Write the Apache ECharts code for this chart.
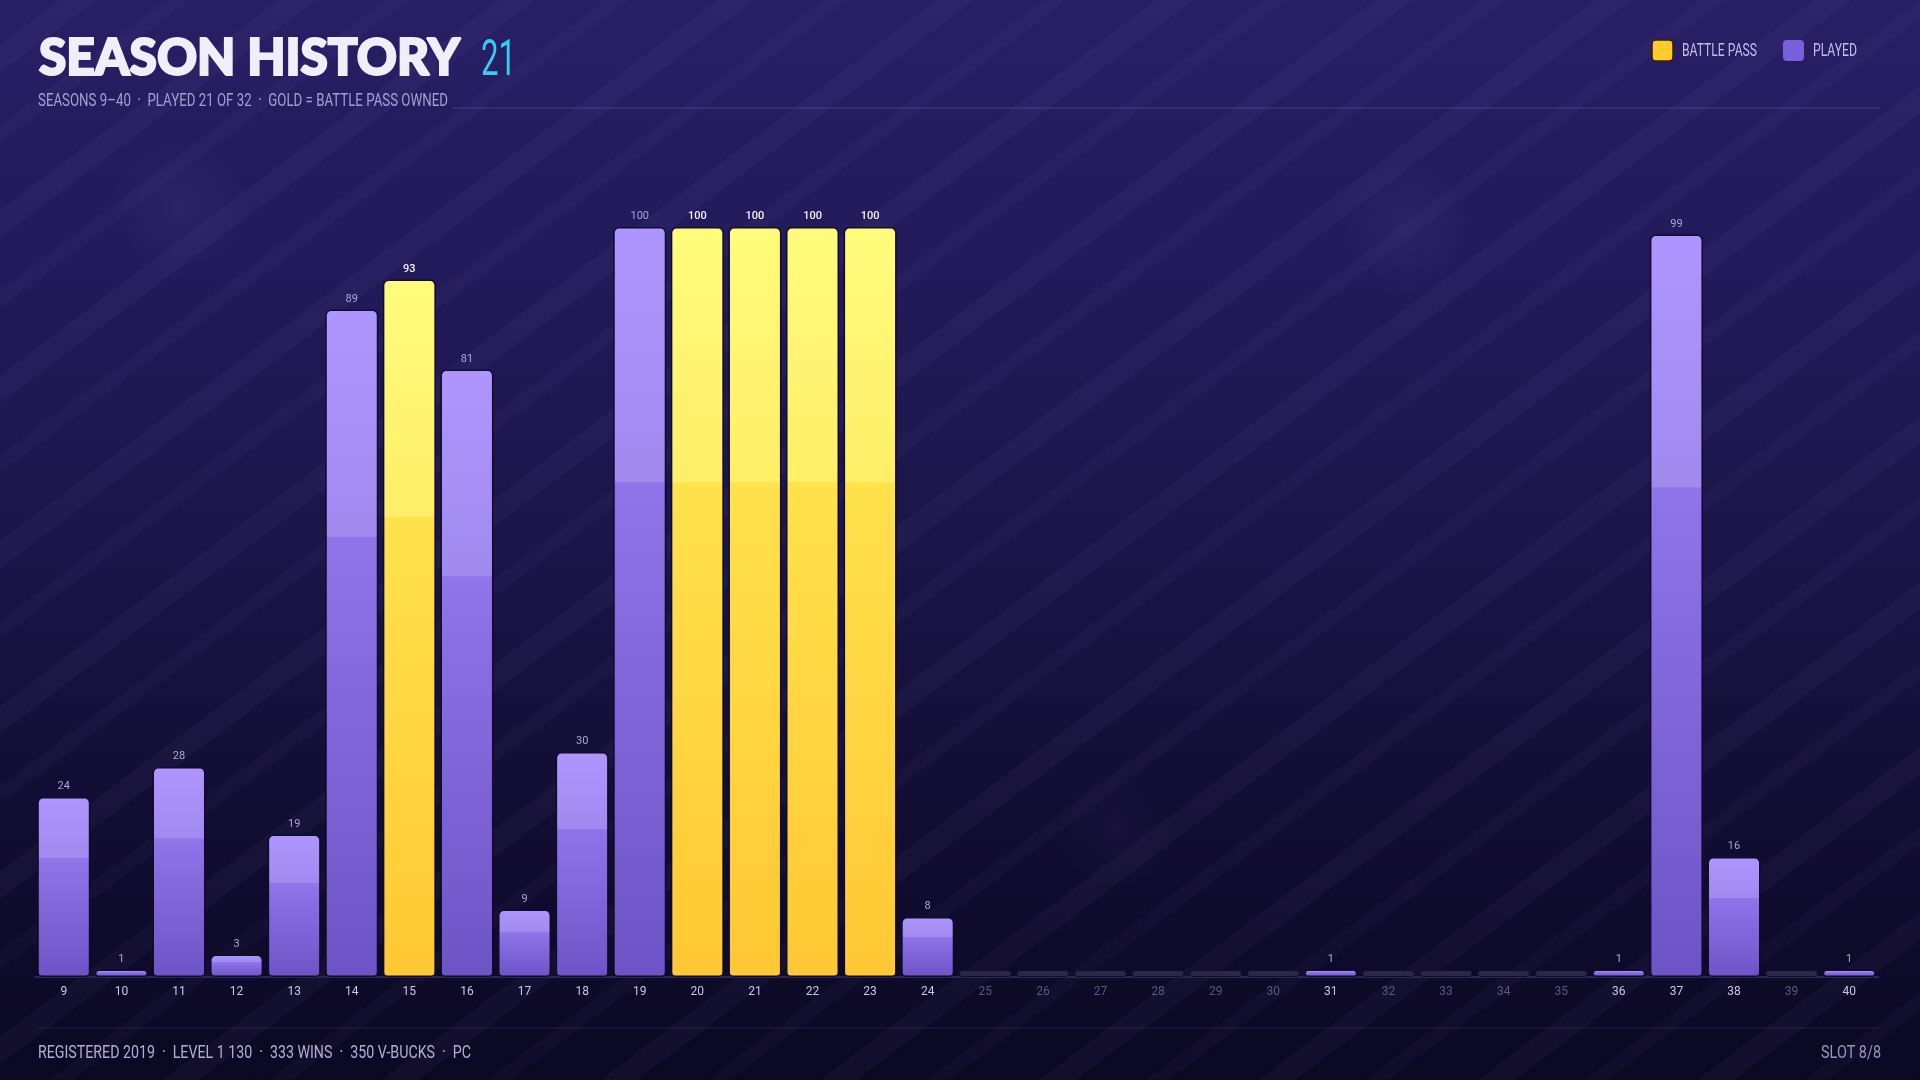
<!DOCTYPE html>
<html>
<head>
<meta charset="utf-8">
<script src="https://cdn.jsdelivr.net/npm/echarts@6/dist/echarts.min.js"></script>
<style>
  html, body { margin: 0; padding: 0; width: 1920px; height: 1080px; overflow: hidden; }
  #wrap {
    position: absolute; left: 0; top: 0; width: 1920px; height: 1080px;
    background:
      radial-gradient(circle at 180px 210px, rgba(120,100,200,0.10) 0, rgba(120,100,200,0) 70px),
      radial-gradient(circle at 1405px 228px, rgba(120,100,200,0.10) 0, rgba(120,100,200,0) 70px),
      radial-gradient(circle at 1115px 830px, rgba(120,100,200,0.06) 0, rgba(120,100,200,0) 60px),
      repeating-linear-gradient(143deg, rgba(255,255,255,0) 0px, rgba(255,255,255,0) 36px, rgba(190,170,255,0.04) 36px, rgba(190,170,255,0.04) 58px, rgba(255,255,255,0) 58px, rgba(255,255,255,0) 100px, rgba(190,170,255,0.032) 100px, rgba(190,170,255,0.032) 114px, rgba(255,255,255,0) 114px, rgba(255,255,255,0) 132px),
      linear-gradient(180deg, #281e65 0%, #221a5a 25%, #1b1549 50%, #120d33 75%, #0b0822 100%);
  }
  #chart { position: absolute; left: 0; top: 0; width: 1920px; height: 1080px; }
</style>
</head>
<body>
<div id="wrap"></div>
<div id="chart"></div>
<script>
// ---- data ----
const seasons = ['9','10','11','12','13','14','15','16','17','18','19','20','21','22','23','24',
                 '25','26','27','28','29','30','31','32','33','34','35','36','37','38','39','40'];
const levels = [24, 1, 28, 3, 19, 89, 93, 81, 9, 30, 100, 100, 100, 100, 100, 8,
                0, 0, 0, 0, 0, 0, 1, 0, 0, 0, 0, 1, 99, 16, 0, 1];
const battlePassSeasons = ['15','20','21','22','23'];
const unplayedSeasons = ['25','26','27','28','29','30','32','33','34','35','39'];

const titleText = 'SEASON HISTORY';
const titleCount = '21';
const subtitleText = 'SEASONS 9\u201340  \u00b7  PLAYED 21 OF 32  \u00b7  GOLD = BATTLE PASS OWNED';
const footerLeft = 'REGISTERED 2019  \u00b7  LEVEL 1 130  \u00b7  333 WINS  \u00b7  350 V-BUCKS  \u00b7  PC';
const footerRight = 'SLOT 8/8';
const legendNames = ['BATTLE PASS', 'PLAYED'];

// ---- derived series data ----
const isBP = s => battlePassSeasons.indexOf(s) >= 0;
const isUnplayed = s => unplayedSeasons.indexOf(s) >= 0;
const playedData = seasons.map((s, i) => (!isBP(s) && !isUnplayed(s)) ? levels[i] : null);
const bpData = seasons.map((s, i) => isBP(s) ? levels[i] : null);
const emptyData = seasons.map((s, i) => isUnplayed(s) ? levels[i] : null);

const FONT_N = 'Roboto, "Noto Sans", sans-serif';

// condensed look: horizontally squeeze texts to target widths
const mctx = document.createElement('canvas').getContext('2d');
function fitScale(text, font, targetW) {
  mctx.font = font;
  const w = mctx.measureText(text).width;
  return w > 0 ? targetW / w : 1;
}
function squeezed(text, font, x, y, targetW, fill, align, extraStyle) {
  const s = fitScale(text, font, targetW);
  return {
    type: 'text', x: x, y: y, scaleX: s, scaleY: 1, z: 10,
    style: Object.assign({ text: text, font: font, fill: fill, align: align || 'left', verticalAlign: 'middle' }, extraStyle || {})
  };
}

const purpleGrad = new echarts.graphic.LinearGradient(0, 0, 0, 1, [
  { offset: 0, color: '#af95ff' },
  { offset: 0.34, color: '#a08aee' },
  { offset: 0.341, color: '#8f74ea' },
  { offset: 1, color: '#6d54c6' }
]);
const goldGrad = new echarts.graphic.LinearGradient(0, 0, 0, 1, [
  { offset: 0, color: '#fffc7c' },
  { offset: 0.34, color: '#ffee68' },
  { offset: 0.341, color: '#ffe24c' },
  { offset: 1, color: '#ffc834' }
]);

const chart = echarts.init(document.getElementById('chart'), null, { renderer: 'canvas' });

const titleFont = '900 51px Lato, "Open Sans", sans-serif';
const subFont = '18px ' + FONT_N;
const footFont = '18px ' + FONT_N;
const legFont = '18px ' + FONT_N;
const countFont = '400 50px ' + FONT_N;

const option = {
  backgroundColor: 'transparent',
  animation: false,
  grid: { left: 35, right: 42, top: 227, bottom: 103, containLabel: false },
  xAxis: {
    type: 'category',
    data: seasons,
    axisLine: { show: true, lineStyle: { color: '#2c2650', width: 2 } },
    axisTick: { show: false },
    axisLabel: {
      margin: 9,
      fontFamily: FONT_N,
      fontSize: 12,
      color: (v) => isUnplayed(v) ? '#5d5585' : '#cbc4ec'
    },
    splitLine: { show: false }
  },
  yAxis: {
    type: 'value', min: 0, max: 100, show: false,
    splitLine: { show: false }
  },
  series: [
    {
      name: legendNames[1], type: 'bar', data: playedData,
      barWidth: 53, barGap: '-100%',
      itemStyle: { color: purpleGrad, borderColor: '#120b30', borderWidth: 1.5, borderRadius: [5, 5, 4, 4] },
      label: { show: true, position: 'top', distance: 5, color: '#aca4d6', fontFamily: FONT_N, fontSize: 11 }
    },
    {
      name: legendNames[0], type: 'bar', data: bpData,
      barWidth: 53, barGap: '-100%',
      itemStyle: { color: goldGrad, borderColor: '#120b30', borderWidth: 1.5, borderRadius: [5, 5, 4, 4] },
      label: { show: true, position: 'top', distance: 5, color: '#f4f1ff', fontFamily: FONT_N, fontSize: 11, fontWeight: 500 }
    },
    {
      name: 'EMPTY', type: 'bar', data: emptyData,
      barWidth: 53, barGap: '-100%', barMinHeight: 7,
      itemStyle: { color: '#2b2744', borderColor: '#120b30', borderWidth: 1, borderRadius: 3 },
      label: { show: false }
    }
  ],
  graphic: [
    squeezed(titleText, titleFont, 39, 33, 421, '#f1eefc', 'left', { verticalAlign: 'top', stroke: '#f1eefc', lineWidth: 2.2 }),
    squeezed(titleCount, countFont, 481, 62, 35, '#38cbf0'),
    squeezed(subtitleText, subFont, 38, 101, 410, '#a69ed2'),
    { type: 'line', z: 5, shape: { x1: 452, y1: 108, x2: 1880, y2: 108 }, style: { stroke: 'rgba(150,130,230,0.28)', lineWidth: 1 } },
    { type: 'line', z: 5, shape: { x1: 38, y1: 1028, x2: 1880, y2: 1028 }, style: { stroke: 'rgba(150,130,230,0.16)', lineWidth: 1 } },
    squeezed(footerLeft, footFont, 38, 1053, 433, '#b3acd6'),
    squeezed(footerRight, footFont, 1881, 1053, 60, '#9a93c4', 'right'),
    // legend
    { type: 'rect', z: 10, shape: { x: 1652, y: 40, width: 21, height: 21, r: 4 }, style: { fill: '#ffcb2f', stroke: '#3a1c10', lineWidth: 1.5 } },
    squeezed(legendNames[0], legFont, 1682, 51, 75, '#c4bdea'),
    { type: 'rect', z: 10, shape: { x: 1783, y: 40, width: 21, height: 21, r: 4 }, style: { fill: '#7a5fdc' } },
    squeezed(legendNames[1], legFont, 1813, 51, 44, '#c4bdea')
  ]
};
chart.setOption(option);
</script>
</body>
</html>
